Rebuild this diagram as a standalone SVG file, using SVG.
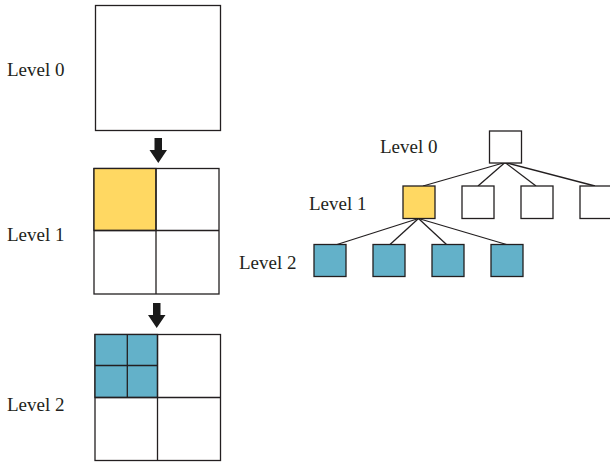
<svg xmlns="http://www.w3.org/2000/svg" width="610" height="464" viewBox="0 0 610 464">
<style>
.lbl{font-family:"Liberation Serif","Times New Roman",serif;font-size:19px;fill:#231f20}
.box{stroke:#231f20;stroke-width:1.3;fill:#fff}
.y{fill:#FFD862}
.b{fill:#63B1C9}
.ln{stroke:#231f20;stroke-width:1.3;fill:none}
.arr{fill:#1a1a1a}
</style>
<rect width="610" height="464" fill="#fff"/>
<g id="grid-level0">
<rect class="box" x="95.5" y="5.5" width="125" height="125"/>
<text class="lbl" x="7" y="76">Level 0</text>
</g>
<g id="grid-level1">
<rect class="box" x="94" y="168.5" width="125" height="125.5"/>
<rect class="box y" x="94" y="168.5" width="62" height="62"/>
<line class="ln" x1="156" y1="168.5" x2="156" y2="294"/>
<line class="ln" x1="94" y1="230.5" x2="219" y2="230.5"/>
<text class="lbl" x="7" y="241">Level 1</text>
</g>
<g id="grid-level2">
<rect class="box" x="95" y="334.5" width="125.5" height="126"/>
<rect class="box b" x="95" y="334.5" width="62.5" height="63"/>
<line class="ln" x1="157.5" y1="334.5" x2="157.5" y2="460.5"/>
<line class="ln" x1="95" y1="397.5" x2="220.5" y2="397.5"/>
<line class="ln" x1="127.3" y1="334.5" x2="127.3" y2="397.5"/>
<line class="ln" x1="95" y1="365.5" x2="157.5" y2="365.5"/>
<text class="lbl" x="7" y="411">Level 2</text>
</g>
<g id="arrows">
<polygon class="arr" points="154.5,138 162,138 162,150 167,150 158.3,163 149.5,150 154.5,150"/>
<polygon class="arr" points="153,303 160.5,303 160.5,315 165.5,315 156.7,328 148,315 153,315"/>
</g>
<g id="connectors">
<line class="ln" x1="505" y1="162.5" x2="423" y2="186"/>
<line class="ln" x1="505" y1="162.5" x2="478" y2="186"/>
<line class="ln" x1="505" y1="162.5" x2="536" y2="186"/>
<line class="ln" x1="505" y1="162.5" x2="595" y2="186"/>
<line class="ln" x1="418.5" y1="218.5" x2="337" y2="244.5"/>
<line class="ln" x1="418.5" y1="218.5" x2="390" y2="244.5"/>
<line class="ln" x1="418.5" y1="218.5" x2="446.5" y2="244.5"/>
<line class="ln" x1="418.5" y1="218.5" x2="506.5" y2="244.5"/>
</g>
<g id="tree-root"><rect class="box" x="489.5" y="131" width="32" height="32"/></g>
<g id="tree-l1-a"><rect class="box y" x="403" y="186" width="32" height="32.5"/></g>
<g id="tree-l1-b"><rect class="box" x="462" y="186" width="32" height="32.5"/></g>
<g id="tree-l1-c"><rect class="box" x="521" y="186" width="32" height="32.5"/></g>
<g id="tree-l1-d"><rect class="box" x="580" y="186" width="32" height="32.5"/></g>
<g id="tree-l2-a"><rect class="box b" x="314" y="244.5" width="32" height="32"/></g>
<g id="tree-l2-b"><rect class="box b" x="373" y="244.5" width="32" height="32"/></g>
<g id="tree-l2-c"><rect class="box b" x="432" y="244.5" width="32" height="32"/></g>
<g id="tree-l2-d"><rect class="box b" x="491" y="244.5" width="32" height="32"/></g>
<g id="tree-labels">
<text class="lbl" x="380" y="153">Level 0</text>
<text class="lbl" x="309" y="210">Level 1</text>
<text class="lbl" x="239" y="269">Level 2</text>
</g>
</svg>
